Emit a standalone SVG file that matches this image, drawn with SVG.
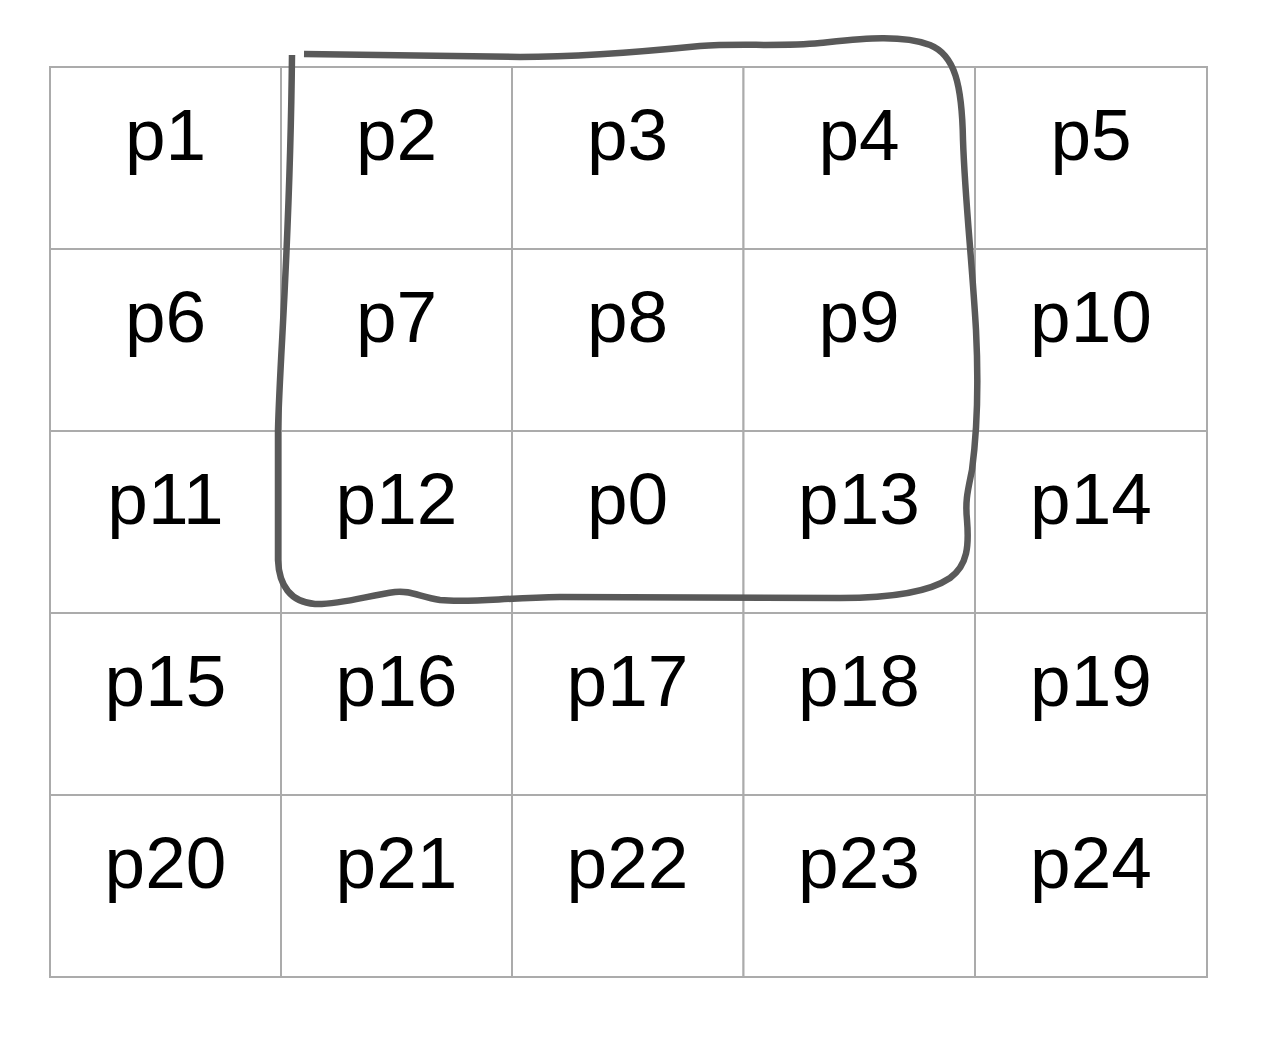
<svg xmlns="http://www.w3.org/2000/svg" width="1266" height="1054" viewBox="0 0 1266 1054">
<style>
.cell rect{fill:#ffffff;stroke:#ababab;stroke-width:2}
.cell text{font-family:"Liberation Sans",Arial,sans-serif;font-size:73px;fill:#000000;text-anchor:middle}
.sketch{fill:none;stroke:#595959;stroke-width:6.5;stroke-linecap:butt;stroke-linejoin:round}
</style>
<rect width="1266" height="1054" fill="#ffffff"/>
<g id="grid">
<g id="p1" class="cell"><rect x="50" y="67" width="231" height="182"/><text x="165.5" y="160">p1</text></g>
<g id="p2" class="cell"><rect x="281" y="67" width="231" height="182"/><text x="396.5" y="160">p2</text></g>
<g id="p3" class="cell"><rect x="512" y="67" width="231.5" height="182"/><text x="627.5" y="160">p3</text></g>
<g id="p4" class="cell"><rect x="743.5" y="67" width="231.5" height="182"/><text x="859" y="160">p4</text></g>
<g id="p5" class="cell"><rect x="975" y="67" width="232" height="182"/><text x="1091" y="160">p5</text></g>

<g id="p6" class="cell"><rect x="50" y="249" width="231" height="182"/><text x="165.5" y="342">p6</text></g>
<g id="p7" class="cell"><rect x="281" y="249" width="231" height="182"/><text x="396.5" y="342">p7</text></g>
<g id="p8" class="cell"><rect x="512" y="249" width="231.5" height="182"/><text x="627.5" y="342">p8</text></g>
<g id="p9" class="cell"><rect x="743.5" y="249" width="231.5" height="182"/><text x="859" y="342">p9</text></g>
<g id="p10" class="cell"><rect x="975" y="249" width="232" height="182"/><text x="1091" y="342">p10</text></g>

<g id="p11" class="cell"><rect x="50" y="431" width="231" height="182"/><text x="165.5" y="524">p11</text></g>
<g id="p12" class="cell"><rect x="281" y="431" width="231" height="182"/><text x="396.5" y="524">p12</text></g>
<g id="p0" class="cell"><rect x="512" y="431" width="231.5" height="182"/><text x="627.5" y="524">p0</text></g>
<g id="p13" class="cell"><rect x="743.5" y="431" width="231.5" height="182"/><text x="859" y="524">p13</text></g>
<g id="p14" class="cell"><rect x="975" y="431" width="232" height="182"/><text x="1091" y="524">p14</text></g>

<g id="p15" class="cell"><rect x="50" y="613" width="231" height="182"/><text x="165.5" y="706">p15</text></g>
<g id="p16" class="cell"><rect x="281" y="613" width="231" height="182"/><text x="396.5" y="706">p16</text></g>
<g id="p17" class="cell"><rect x="512" y="613" width="231.5" height="182"/><text x="627.5" y="706">p17</text></g>
<g id="p18" class="cell"><rect x="743.5" y="613" width="231.5" height="182"/><text x="859" y="706">p18</text></g>
<g id="p19" class="cell"><rect x="975" y="613" width="232" height="182"/><text x="1091" y="706">p19</text></g>

<g id="p20" class="cell"><rect x="50" y="795" width="231" height="182"/><text x="165.5" y="888">p20</text></g>
<g id="p21" class="cell"><rect x="281" y="795" width="231" height="182"/><text x="396.5" y="888">p21</text></g>
<g id="p22" class="cell"><rect x="512" y="795" width="231.5" height="182"/><text x="627.5" y="888">p22</text></g>
<g id="p23" class="cell"><rect x="743.5" y="795" width="231.5" height="182"/><text x="859" y="888">p23</text></g>
<g id="p24" class="cell"><rect x="975" y="795" width="232" height="182"/><text x="1091" y="888">p24</text></g>
</g>
<g id="connectors">
<path class="sketch" d="M304,54 L520,57 C580,57 640,52 700,46 C740,43 780,47 820,43 C860,39 900,34 930,45 C955,55 962,85 963,140 C965,200 972,260 976,330 C979,390 976,440 972,470 C968,490 965,500 967,520 C969,545 968,565 950,578 C925,595 880,598 840,598 L560,597 C500,598 470,603 440,600 C420,597 410,590 395,592 C370,595 340,605 315,604 C290,602 279,585 278,560 L278,430 C280,350 290,250 292,55"/>
</g>
</svg>
